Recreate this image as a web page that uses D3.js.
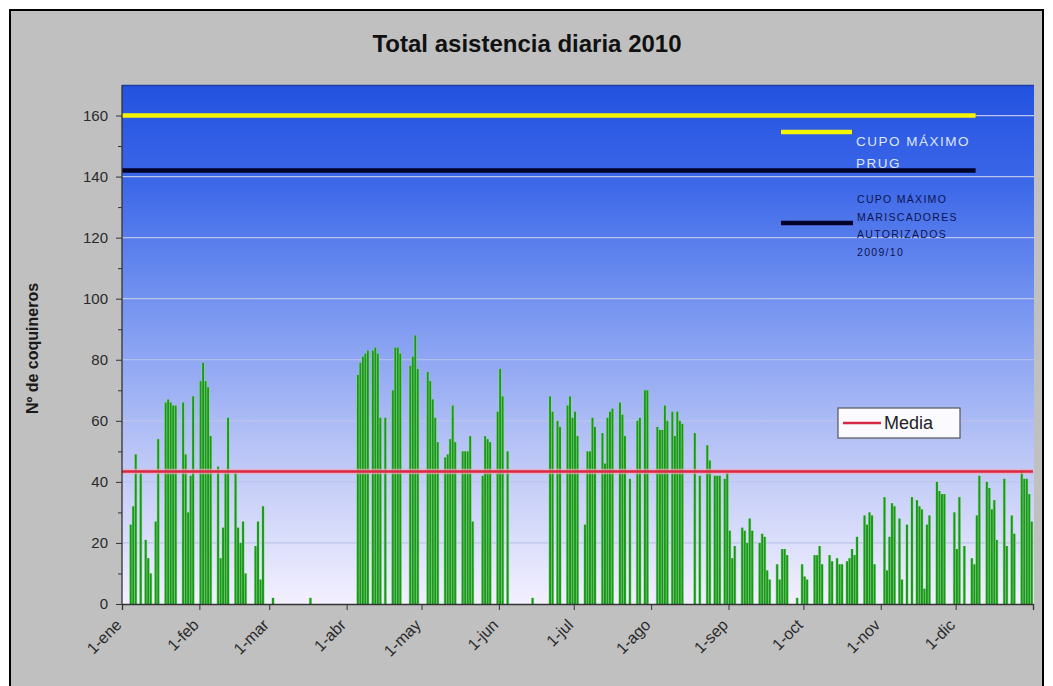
<!DOCTYPE html>
<html>
<head>
<meta charset="utf-8">
<script src="https://cdn.jsdelivr.net/npm/d3@7"></script>
<style>
  body { margin: 0; background: #fff; }
  text { font-family: Arial, "Liberation Sans", sans-serif; }
</style>
</head>
<body>
<svg id="chart" width="1053" height="686"></svg>
<script>
// Asistencia diaria de coquineros, 2010 (un valor por día)
const ene = [0,0,0,26,32,49,0,43,0,21,15,10,0,27,54,0,0,66,67,66,65,65,0,0,66,49,30,42,68,0,0];
const feb = [73,79,73,71,55,0,0,45,15,25,43,61,0,0,43,25,20,27,10,0,0,0,19,27,8,32,0,0];
const mar = [0,2,0,0,0,0,0,0,0,0,0,0,0,0,0,0,2,0,0,0,0,0,0,0,0,0,0,0,0,0,0];
const abr = [0,0,0,0,75,79,81,82,83,0,83,84,82,61,0,61,0,0,70,84,84,82,0,0,0,78,81,88,77,0];
const may = [0,0,76,73,67,61,53,0,0,48,49,54,65,53,0,0,50,50,50,55,27,0,0,0,42,55,54,53,0,0,63];
const jun = [77,68,0,50,0,0,0,0,0,0,0,0,0,2,0,0,0,0,0,0,68,63,0,60,58,0,0,65,68,61];
const jul = [63,55,0,0,26,50,50,61,58,0,0,56,46,61,63,64,0,0,66,62,55,0,41,0,0,60,61,0,70,70,0];
const ago = [0,0,58,57,57,65,60,0,63,55,63,60,59,0,0,0,0,56,0,42,0,0,52,47,0,42,42,42,0,41,43];
const sep = [24,15,19,0,0,25,24,20,28,24,0,0,20,23,22,11,8,0,0,13,8,18,18,16,0,0,0,2,0,13];
const oct = [9,8,0,0,16,16,19,13,0,0,16,14,0,15,13,13,0,14,15,18,16,22,0,0,29,26,30,29,13,0,0];
const nov = [0,35,11,22,33,32,0,28,8,0,26,0,35,0,34,32,31,5,26,29,0,0,40,37,36,36,0,0,0,30];
const dic = [18,35,0,19,0,0,15,13,29,42,0,0,40,38,31,34,21,0,0,41,19,0,29,23,0,0,44,41,41,36,27];

const etiquetasMes = ["1-ene","1-feb","1-mar","1-abr","1-may","1-jun","1-jul","1-ago","1-sep","1-oct","1-nov","1-dic"];
const ticksY = [0, 20, 40, 60, 80, 100, 120, 140, 160];

const media = 43.4;              // asistencia media
const cupoPRUG = 160;            // cupo máximo PRUG
const cupoMariscadores = 142;    // cupo máximo mariscadores autorizados 2009/10
const finCupos = new Date(Date.UTC(2010, 11, 9));

const leyendaPRUG = ["CUPO MÁXIMO", "PRUG"];
const leyendaMariscadores = ["CUPO MÁXIMO", "MARISCADORES", "AUTORIZADOS", "2009/10"];

// ---------------------------------------------------------------
const asistencia = [].concat(ene, feb, mar, abr, may, jun, jul, ago, sep, oct, nov, dic);
const dias = asistencia.map((v, i) => ({ fecha: new Date(Date.UTC(2010, 0, 1 + i)), valor: v }));

const W = 1053, H = 686;
const plot = { left: 122, right: 1034, top: 85, bottom: 604 };
const inicio = new Date(Date.UTC(2010, 0, 1));
const fin = new Date(Date.UTC(2011, 0, 1));

const svg = d3.select("#chart");

const x = d3.scaleUtc().domain([inicio, fin]).range([plot.left, 1033]);
const y = d3.scaleLinear().domain([0, 170]).range([plot.bottom, plot.top]);

// fondo del gráfico
svg.append("rect").attr("x", 10).attr("y", 10).attr("width", 1033).attr("height", H)
  .attr("fill", "#c0c0c0").attr("stroke", "#000").attr("stroke-width", 2);

// degradado del área de trazado
const defs = svg.append("defs");
const grad = defs.append("linearGradient").attr("id", "fondoAzul")
  .attr("x1", 0).attr("y1", 0).attr("x2", 0).attr("y2", 1);
[[0, "#2352e0"], [0.18, "#3a66e8"], [0.4, "#7090f0"], [0.7, "#b8c4f6"], [1, "#f3f0ff"]]
  .forEach(([o, c]) => grad.append("stop").attr("offset", o).attr("stop-color", c));

svg.append("rect")
  .attr("x", plot.left).attr("y", plot.top)
  .attr("width", plot.right - plot.left).attr("height", plot.bottom - plot.top)
  .attr("fill", "url(#fondoAzul)");
svg.append("line").attr("x1", plot.left).attr("x2", plot.right)
  .attr("y1", plot.top + 0.5).attr("y2", plot.top + 0.5)
  .attr("stroke", "#1c3ca8").attr("stroke-width", 1.5);

// título
svg.append("text").attr("x", 527).attr("y", 52).attr("text-anchor", "middle")
  .attr("font-size", 24).attr("font-weight", "bold").attr("fill", "#111")
  .text("Total asistencia diaria 2010");

// líneas de división horizontales
svg.append("g").selectAll("line").data(ticksY.filter(d => d > 0)).join("line")
  .attr("x1", plot.left).attr("x2", plot.right)
  .attr("y1", d => y(d)).attr("y2", d => y(d))
  .attr("stroke", "#bcc4ec").attr("stroke-width", 1.2);

// barras diarias
const ancho = x(new Date(Date.UTC(2010, 0, 2))) - x(inicio);
const gBarras = svg.append("g");
const conValor = dias.filter(d => d.valor > 0);
gBarras.selectAll("rect.halo").data(conValor).join("rect").attr("class", "halo")
  .attr("x", d => x(d.fecha) - 0.3).attr("width", ancho + 0.6)
  .attr("y", d => y(d.valor)).attr("height", d => y(0) - y(d.valor))
  .attr("fill", "#8fdf8f").attr("opacity", 0.9);
gBarras.selectAll("rect.barra").data(conValor).join("rect").attr("class", "barra")
  .attr("x", d => x(d.fecha) + 0.3).attr("width", ancho - 0.6)
  .attr("y", d => y(d.valor)).attr("height", d => y(0) - y(d.valor))
  .attr("fill", "#1d961d");

// líneas de cupo
const linea = d3.line().x(d => x(d[0])).y(d => y(d[1]));
svg.append("path").datum([[inicio, cupoPRUG], [finCupos, cupoPRUG]])
  .attr("d", linea).attr("fill", "none").attr("stroke", "#f4f400").attr("stroke-width", 4.5);
svg.append("path").datum([[inicio, cupoMariscadores], [finCupos, cupoMariscadores]])
  .attr("d", linea).attr("fill", "none").attr("stroke", "#000028").attr("stroke-width", 4.5);

// media
svg.append("path").datum([[inicio, media], [fin, media]])
  .attr("d", linea).attr("fill", "none").attr("stroke", "#f3a9ba").attr("stroke-width", 5.5).attr("opacity", 0.7);
svg.append("path").datum([[inicio, media], [fin, media]])
  .attr("d", linea).attr("fill", "none").attr("stroke", "#d92842").attr("stroke-width", 2.6);

// eje Y
const ejeY = svg.append("g").attr("transform", `translate(${plot.left},0)`)
  .call(d3.axisLeft(y).tickValues(ticksY).tickSize(6).tickPadding(8).tickFormat(d3.format("d")));
ejeY.call(g => g.select(".domain").remove());
ejeY.selectAll("text").attr("font-size", 15).attr("fill", "#2a2a2a").attr("font-family", "Arial, 'Liberation Sans', sans-serif");
ejeY.selectAll(".tick line").attr("stroke", "#333");
svg.append("g").attr("transform", `translate(${plot.left},0)`)
  .call(d3.axisLeft(y).tickValues(d3.range(10, 170, 20)).tickSize(4).tickFormat(""))
  .call(g => g.select(".domain").remove())
  .selectAll(".tick line").attr("stroke", "#333");
svg.append("line").attr("x1", plot.left).attr("x2", plot.left)
  .attr("y1", plot.top).attr("y2", plot.bottom).attr("stroke", "#333").attr("stroke-width", 1.3);

svg.append("text").attr("transform", `translate(38,${(plot.top + plot.bottom) / 2 + 4}) rotate(-90)`)
  .attr("text-anchor", "middle").attr("font-size", 16).attr("font-weight", "bold").attr("fill", "#1a1a1a")
  .text("Nº de coquineros");

// eje X
const meses = d3.utcMonth.range(inicio, fin);
const ejeX = svg.append("g").attr("transform", `translate(0,${plot.bottom})`)
  .call(d3.axisBottom(x).tickValues(meses.concat([fin])).tickSize(6)
    .tickFormat((d, i) => i < etiquetasMes.length ? etiquetasMes[i] : ""));
ejeX.select(".domain").attr("stroke", "#333").attr("stroke-width", 1.3);
ejeX.selectAll(".tick line").attr("stroke", "#333");
ejeX.selectAll("text")
  .attr("font-size", 16).attr("fill", "#2a2a2a").attr("font-family", "Arial, 'Liberation Sans', sans-serif")
  .attr("text-anchor", "end").attr("dy", null).attr("y", 0)
  .attr("transform", "translate(0,22) rotate(-45)");

// leyenda de cupos
svg.append("line").attr("x1", 781).attr("x2", 852).attr("y1", 132).attr("y2", 132)
  .attr("stroke", "#f4f400").attr("stroke-width", 4.5);
svg.append("g").selectAll("text").data(leyendaPRUG).join("text")
  .attr("x", 856).attr("y", (d, i) => 146 + i * 22)
  .attr("font-size", 13.5).attr("letter-spacing", 1.5).attr("fill", "#dfe6ff")
  .text(d => d);
svg.append("line").attr("x1", 781).attr("x2", 853).attr("y1", 223).attr("y2", 223)
  .attr("stroke", "#000028").attr("stroke-width", 4.5);
svg.append("g").selectAll("text").data(leyendaMariscadores).join("text")
  .attr("x", 857).attr("y", (d, i) => 203 + i * 17.5)
  .attr("font-size", 10.5).attr("letter-spacing", 1.3).attr("fill", "#0c1450")
  .text(d => d);

// leyenda de la media
const gMedia = svg.append("g").attr("transform", "translate(838,408)");
gMedia.append("rect").attr("width", 122).attr("height", 30)
  .attr("fill", "#fbfbff").attr("stroke", "#555").attr("stroke-width", 1.2);
gMedia.append("line").attr("x1", 5).attr("x2", 43).attr("y1", 15).attr("y2", 15)
  .attr("stroke", "#d92842").attr("stroke-width", 2.4);
gMedia.append("text").attr("x", 46).attr("y", 21).attr("font-size", 18).attr("fill", "#222")
  .text("Media");
</script>
</body>
</html>
